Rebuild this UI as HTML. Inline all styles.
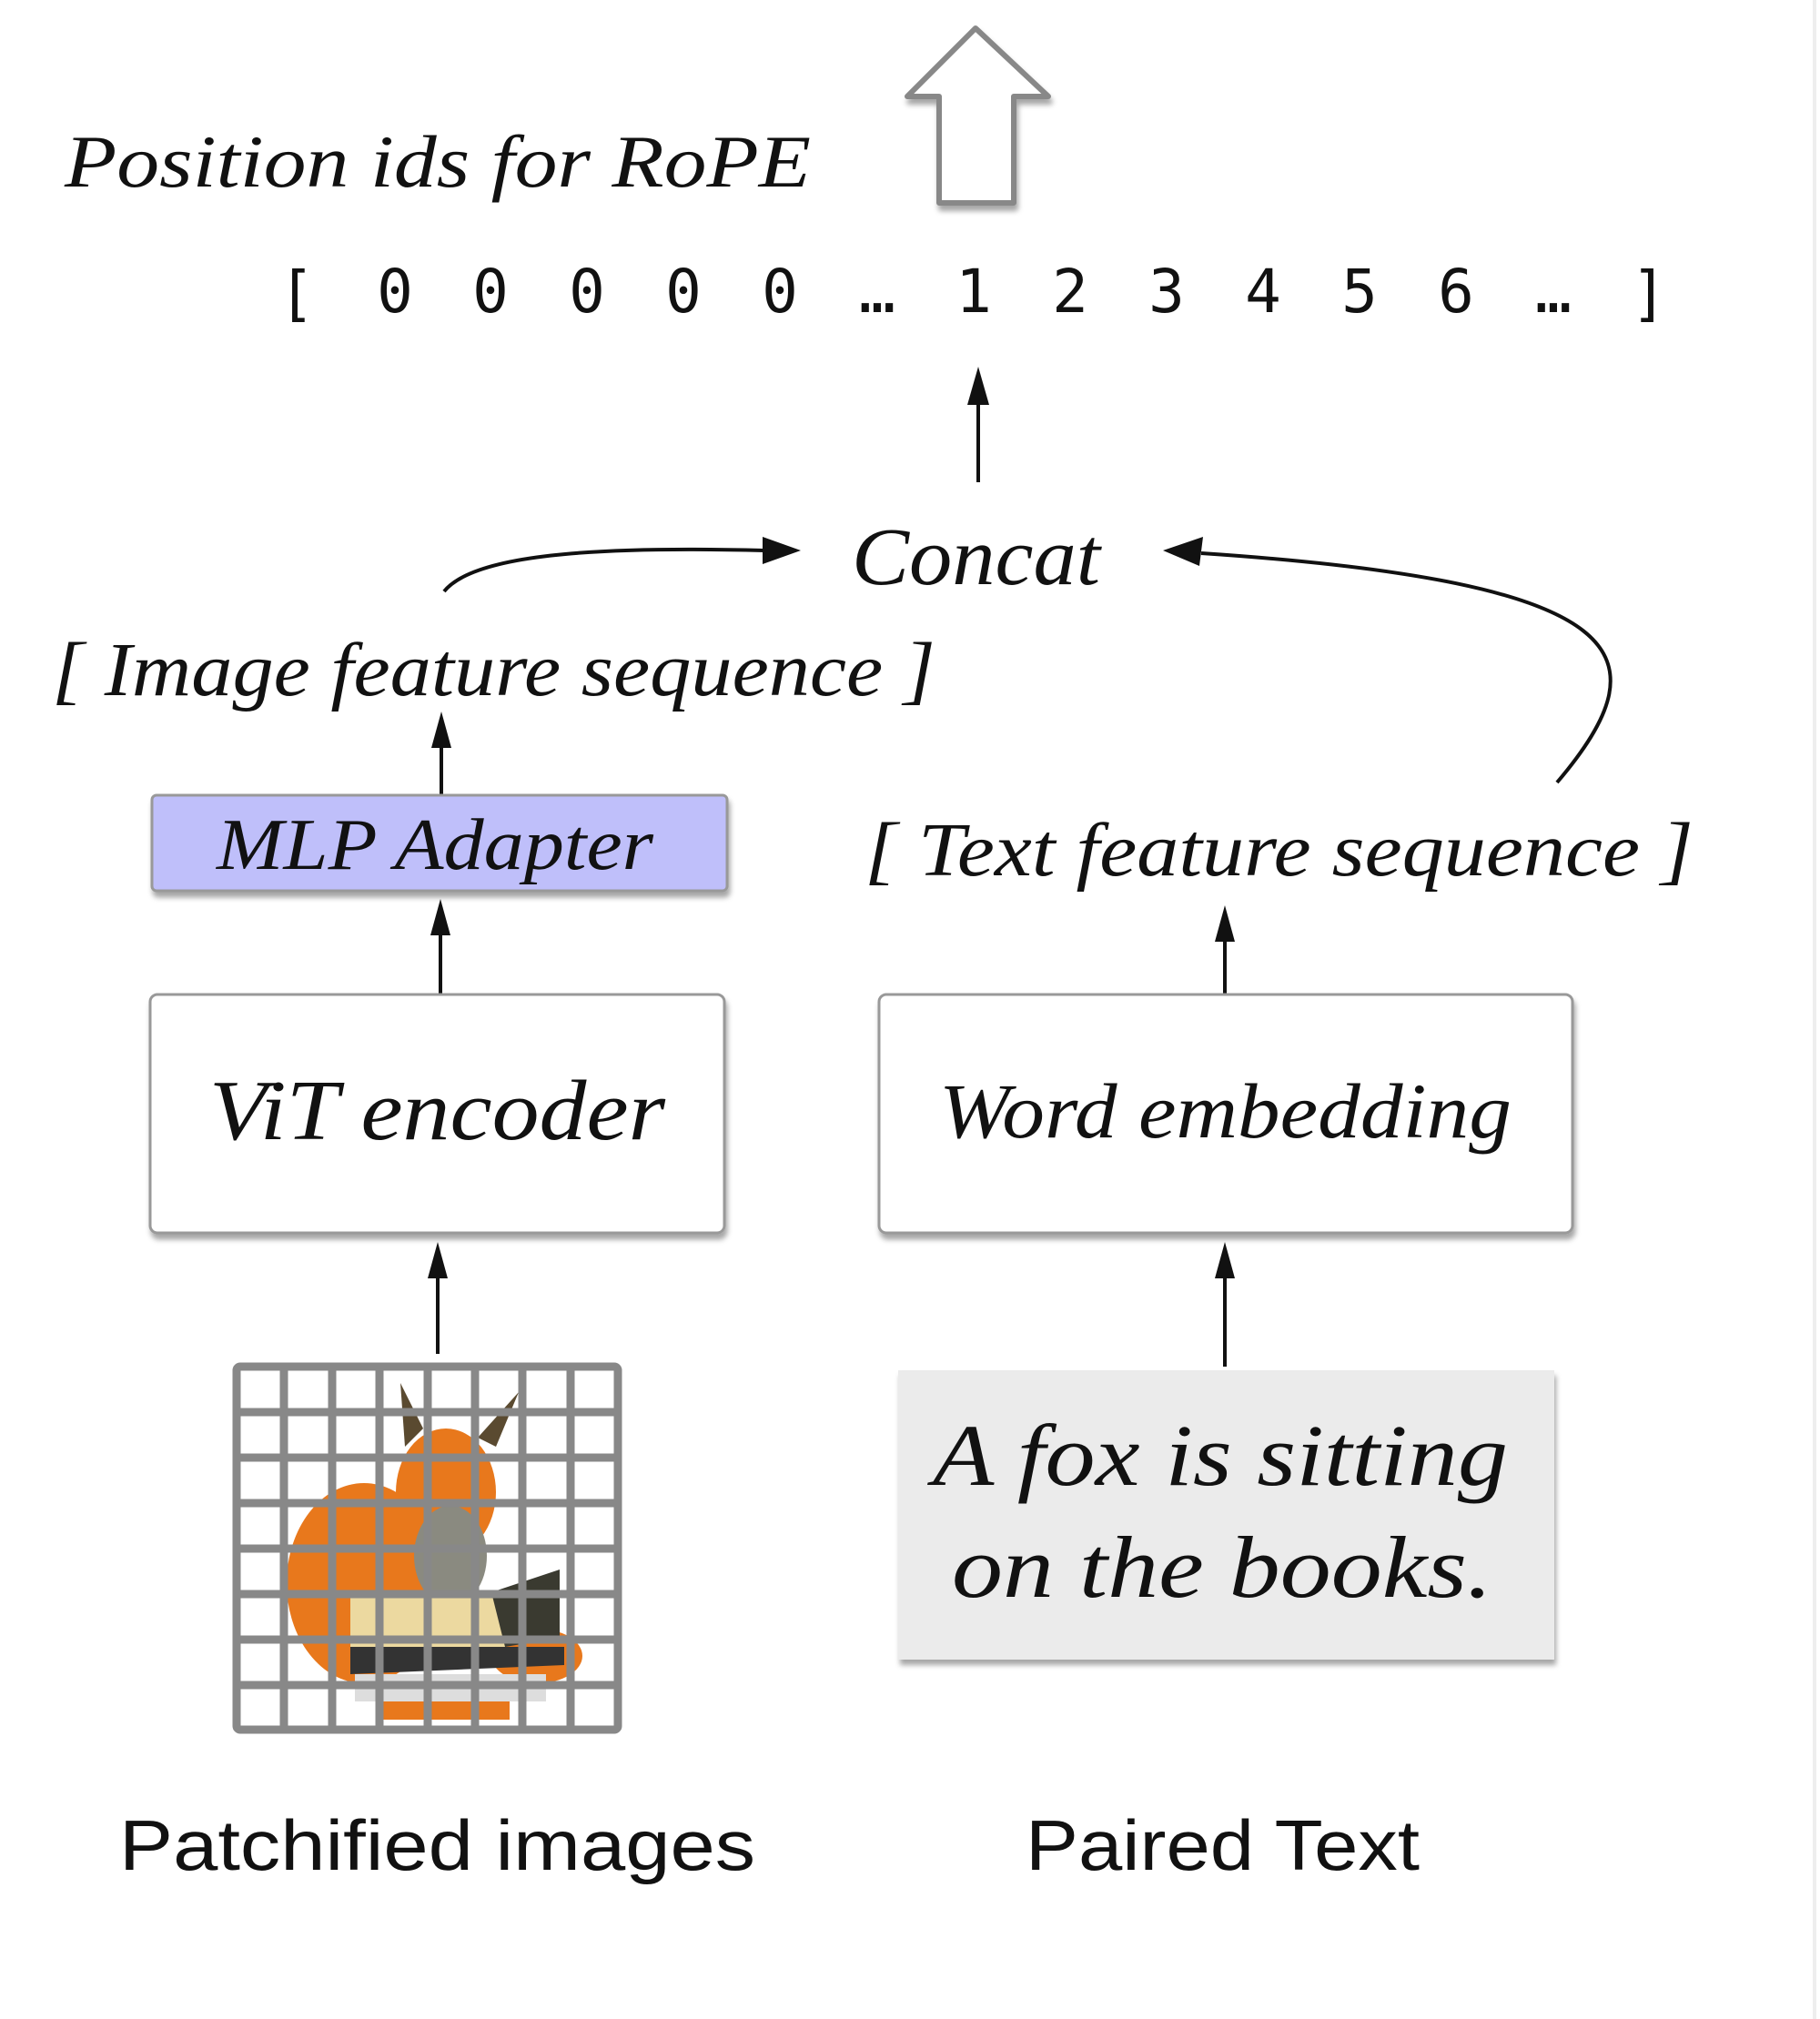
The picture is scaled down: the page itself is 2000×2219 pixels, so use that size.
<!DOCTYPE html>
<html><head><meta charset="utf-8"><style>
html,body{margin:0;padding:0;background:#fff;}
svg{display:block;}
.ser{font-family:"Liberation Serif",serif;font-style:italic;fill:#111;}
.sans{font-family:"Liberation Sans",sans-serif;fill:#111;}
.mono{font-family:"DejaVu Sans Mono","Liberation Mono",monospace;fill:#111;}
</style></head><body>
<svg width="2000" height="2219" viewBox="0 0 2000 2219" xmlns="http://www.w3.org/2000/svg">
<defs>
<filter id="sh" x="-10%" y="-10%" width="130%" height="140%"><feDropShadow dx="2" dy="6" stdDeviation="3" flood-color="#000" flood-opacity="0.35"/></filter>
</defs>
<line x1="1994" y1="0" x2="1994" y2="2219" stroke="#eee" stroke-width="4"/>
<path d="M1072,31 L1152,106 L1114,106 L1114,223 L1032,223 L1032,106 L997,106 Z" fill="#fff" stroke="#888" stroke-width="6" stroke-linejoin="round" filter="url(#sh)"/>
<text x="71" y="205" class="ser" font-size="82" textLength="820" lengthAdjust="spacingAndGlyphs">Position ids for RoPE</text>
<g class="mono" font-size="66" text-anchor="middle">
<text x="326" y="345">[</text>
<text x="434" y="343">0</text><text x="539" y="343">0</text><text x="645" y="343">0</text><text x="751" y="343">0</text><text x="857" y="343">0</text>
<text x="964" y="343">…</text>
<text x="1070" y="343">1</text><text x="1176" y="343">2</text><text x="1282" y="343">3</text><text x="1388" y="343">4</text><text x="1494" y="343">5</text><text x="1600" y="343">6</text>
<text x="1707" y="343">…</text>
<text x="1812" y="345">]</text>
</g>
<line x1="1075" y1="530" x2="1075" y2="440" stroke="#111" stroke-width="4"/>
<path d="M1075,403 L1063,445 L1087,445 Z" fill="#111"/>
<text x="936" y="642" class="ser" font-size="90" textLength="273" lengthAdjust="spacingAndGlyphs">Concat</text>
<path d="M488,650 C520,610 650,600 840,605" fill="none" stroke="#111" stroke-width="4"/>
<path d="M880,605 L838,590 L838,620 Z" fill="#111"/>
<path d="M1711,860 C1830,720 1800,640 1320,608" fill="none" stroke="#111" stroke-width="4"/>
<path d="M1278,605 L1322,590 L1318,622 Z" fill="#111"/>
<text x="57" y="764" class="ser" font-size="84" textLength="971" lengthAdjust="spacingAndGlyphs">[ Image feature sequence ]</text>
<line x1="485" y1="874" x2="485" y2="815" stroke="#111" stroke-width="4"/>
<path d="M485,782 L474,822 L496,822 Z" fill="#111"/>
<rect x="167" y="874" width="632" height="105" rx="5" fill="#bfbffa" stroke="#999" stroke-width="3" filter="url(#sh)"/>
<text x="238" y="955" class="ser" font-size="80" textLength="480" lengthAdjust="spacingAndGlyphs">MLP Adapter</text>
<text x="950" y="962" class="ser" font-size="84" textLength="911" lengthAdjust="spacingAndGlyphs">[ Text  feature sequence ]</text>
<line x1="484" y1="1093" x2="484" y2="1020" stroke="#111" stroke-width="4"/>
<path d="M484,988 L473,1028 L495,1028 Z" fill="#111"/>
<line x1="1346" y1="1093" x2="1346" y2="1030" stroke="#111" stroke-width="4"/>
<path d="M1346,995 L1335,1035 L1357,1035 Z" fill="#111"/>
<rect x="165" y="1093" width="631" height="262" rx="8" fill="#fff" stroke="#999" stroke-width="3" filter="url(#sh)"/>
<text x="230" y="1252" class="ser" font-size="94" textLength="501" lengthAdjust="spacingAndGlyphs">ViT encoder</text>
<rect x="966" y="1093" width="762" height="262" rx="8" fill="#fff" stroke="#999" stroke-width="3" filter="url(#sh)"/>
<text x="1032" y="1250" class="ser" font-size="86" textLength="629" lengthAdjust="spacingAndGlyphs">Word embedding</text>
<line x1="481" y1="1488" x2="481" y2="1400" stroke="#111" stroke-width="4"/>
<path d="M481,1365 L470,1405 L492,1405 Z" fill="#111"/>
<line x1="1346" y1="1502" x2="1346" y2="1400" stroke="#111" stroke-width="4"/>
<path d="M1346,1365 L1335,1405 L1357,1405 Z" fill="#111"/>
<g>
<rect x="258" y="1500" width="423" height="403" fill="#fff"/>
<ellipse cx="400" cy="1740" rx="85" ry="110" fill="#e8781c"/>
<ellipse cx="490" cy="1640" rx="55" ry="70" fill="#e8781c"/>
<path d="M440,1520 L465,1570 L445,1590 Z" fill="#5a4a30"/>
<path d="M570,1530 L545,1590 L525,1580 Z" fill="#5a4a30"/>
<ellipse cx="495" cy="1710" rx="40" ry="55" fill="#8a8a80"/>
<ellipse cx="590" cy="1820" rx="50" ry="30" fill="#e8781c"/>
<rect x="385" y="1750" width="170" height="60" fill="#ecd9a0"/>
<path d="M385,1810 L620,1810 L620,1830 L385,1840 Z" fill="#333"/>
<path d="M390,1840 L600,1840 L600,1870 L390,1870 Z" fill="#ddd"/>
<path d="M540,1750 L615,1725 L615,1800 L555,1810 Z" fill="#3a3a30"/>
<path d="M420,1870 L560,1870 L560,1890 L420,1890 Z" fill="#e8781c"/>
</g>
<g stroke="#888" stroke-width="9" fill="none">
<rect x="260" y="1502" width="419" height="399" rx="4"/>
<line x1="312" y1="1502" x2="312" y2="1901"/><line x1="365" y1="1502" x2="365" y2="1901"/><line x1="417" y1="1502" x2="417" y2="1901"/><line x1="470" y1="1502" x2="470" y2="1901"/><line x1="522" y1="1502" x2="522" y2="1901"/><line x1="574" y1="1502" x2="574" y2="1901"/><line x1="627" y1="1502" x2="627" y2="1901"/>
<line x1="260" y1="1552" x2="679" y2="1552"/><line x1="260" y1="1602" x2="679" y2="1602"/><line x1="260" y1="1652" x2="679" y2="1652"/><line x1="260" y1="1702" x2="679" y2="1702"/><line x1="260" y1="1752" x2="679" y2="1752"/><line x1="260" y1="1802" x2="679" y2="1802"/><line x1="260" y1="1852" x2="679" y2="1852"/>
</g>
<rect x="987" y="1506" width="721" height="318" fill="#ebebeb" filter="url(#sh)"/>
<text x="1025" y="1632" class="ser" font-size="96" textLength="632" lengthAdjust="spacingAndGlyphs">A fox is sitting</text>
<text x="1046" y="1755" class="ser" font-size="96" textLength="594" lengthAdjust="spacingAndGlyphs">on the books.</text>
<text x="131" y="2055" class="sans" font-size="78" textLength="699" lengthAdjust="spacingAndGlyphs">Patchified images</text>
<text x="1127" y="2055" class="sans" font-size="78" textLength="433" lengthAdjust="spacingAndGlyphs">Paired Text</text>
</svg>
</body></html>
